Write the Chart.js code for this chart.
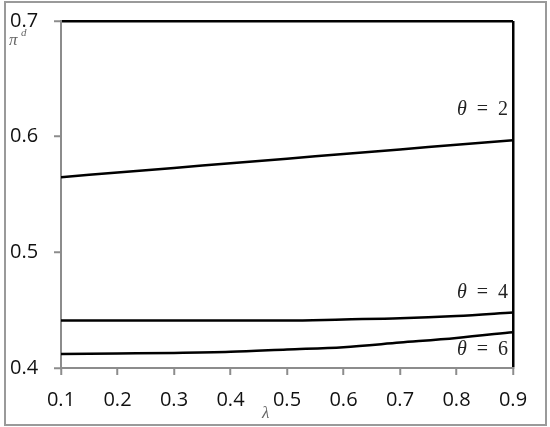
<!DOCTYPE html>
<html>
<head>
<meta charset="utf-8">
<script src="https://cdn.jsdelivr.net/npm/chart.js@4/dist/chart.umd.min.js"></script>
<style>
  html, body { margin: 0; padding: 0; background: #fff; }
  #wrap { position: relative; width: 550px; height: 427px; }
  #frame { position: absolute; left: 4px; top: 1px; width: 539px; height: 421px; border: 2px solid #9a9a9a; pointer-events: none; }
</style>
</head>
<body>
<div id="wrap">
  <canvas id="chart" width="550" height="427"></canvas>
  <div id="frame"></div>
</div>
<script>
// lambda values on the x axis
const lambdas = [0.1, 0.2, 0.3, 0.4, 0.5, 0.6, 0.7, 0.8, 0.9];

// pi^d for each theta
const theta2 = [0.565, 0.569, 0.573, 0.577, 0.581, 0.585, 0.589, 0.593, 0.597];
const theta4 = [0.441, 0.441, 0.441, 0.441, 0.441, 0.442, 0.443, 0.445, 0.448];
const theta6 = [0.412, 0.4125, 0.413, 0.414, 0.416, 0.418, 0.422, 0.426, 0.431];

const seriesNames = ['2', '4', '6'];
// y value where each theta label sits
const labelLevels = [0.623, 0.465, 0.4155];

const yTicks = [0.4, 0.5, 0.6, 0.7];

const tickFont = { family: 'Open Sans', size: 20 };

// draws the theta labels and the axis symbols
const annotations = {
  id: 'annotations',
  afterDatasetsDraw(chart) {
    const { ctx, scales: { x, y } } = chart;
    ctx.save();
    ctx.fillStyle = '#222';
    ctx.textBaseline = 'middle';
    const right = x.getPixelForValue(0.9) - 5;
    seriesNames.forEach((name, i) => {
      const py = y.getPixelForValue(labelLevels[i]);
      ctx.font = '20px "Liberation Serif"';
      ctx.textAlign = 'right';
      const rest = '  =  ' + name;
      ctx.fillText(rest, right, py);
      const w = ctx.measureText(rest).width;
      ctx.font = 'italic 20px "Liberation Serif"';
      ctx.fillText('θ', right - w, py);
    });

    // y axis symbol
    ctx.fillStyle = '#666';
    ctx.textAlign = 'left';
    ctx.font = 'italic 17px "Liberation Serif"';
    ctx.fillText('π', 9, 41);
    ctx.font = 'italic 11px "Liberation Serif"';
    ctx.fillText('d', 21, 33);

    // x axis symbol
    ctx.font = 'italic 17px "Liberation Serif"';
    ctx.fillText('λ', 262, 414);
    ctx.restore();
  }
};

const lineStyle = {
  borderColor: '#000',
  borderWidth: 2.5,
  pointRadius: 0,
  cubicInterpolationMode: 'monotone',
  fill: false
};

new Chart(document.getElementById('chart'), {
  type: 'line',
  data: {
    labels: lambdas,
    datasets: [
      { label: 'θ = 2', data: theta2, ...lineStyle },
      { label: 'θ = 4', data: theta4, ...lineStyle },
      { label: 'θ = 6', data: theta6, ...lineStyle }
    ]
  },
  options: {
    responsive: false,
    animation: false,
    layout: { padding: { left: 10, right: 37, top: 21, bottom: 0 } },
    plugins: {
      legend: { display: false },
      tooltip: { enabled: false }
    },
    scales: {
      x: {
        type: 'linear',
        min: 0.1,
        max: 0.9,
        afterBuildTicks: scale => {
          scale.ticks = lambdas.map(v => ({ value: v }));
        },
        afterFit: scale => { scale.height = 59; },
        border: { display: true, color: '#8c8c8c', width: 2 },
        grid: {
          drawOnChartArea: true,
          color: c => (c.tick && c.tick.value === 0.9 ? '#000' : 'rgba(0,0,0,0)'),
          lineWidth: 2.5,
          tickColor: '#8c8c8c',
          tickLength: 7,
          tickWidth: 2
        },
        ticks: {
          color: '#111',
          font: tickFont,
          padding: 13,
          maxRotation: 0,
          callback: v => v.toFixed(1)
        }
      },
      y: {
        min: 0.4,
        max: 0.7,
        afterBuildTicks: scale => {
          scale.ticks = yTicks.map(v => ({ value: v }));
        },
        afterFit: scale => { scale.width = 51; },
        border: { display: true, color: '#8c8c8c', width: 2 },
        grid: {
          drawOnChartArea: true,
          color: c => (c.tick && c.tick.value === 0.7 ? '#000' : 'rgba(0,0,0,0)'),
          lineWidth: 2.5,
          tickColor: '#8c8c8c',
          tickLength: 7,
          tickWidth: 2
        },
        ticks: {
          color: '#111',
          font: tickFont,
          crossAlign: 'far',
          callback: v => v.toFixed(1)
        }
      }
    }
  },
  plugins: [annotations]
});
</script>
</body>
</html>
